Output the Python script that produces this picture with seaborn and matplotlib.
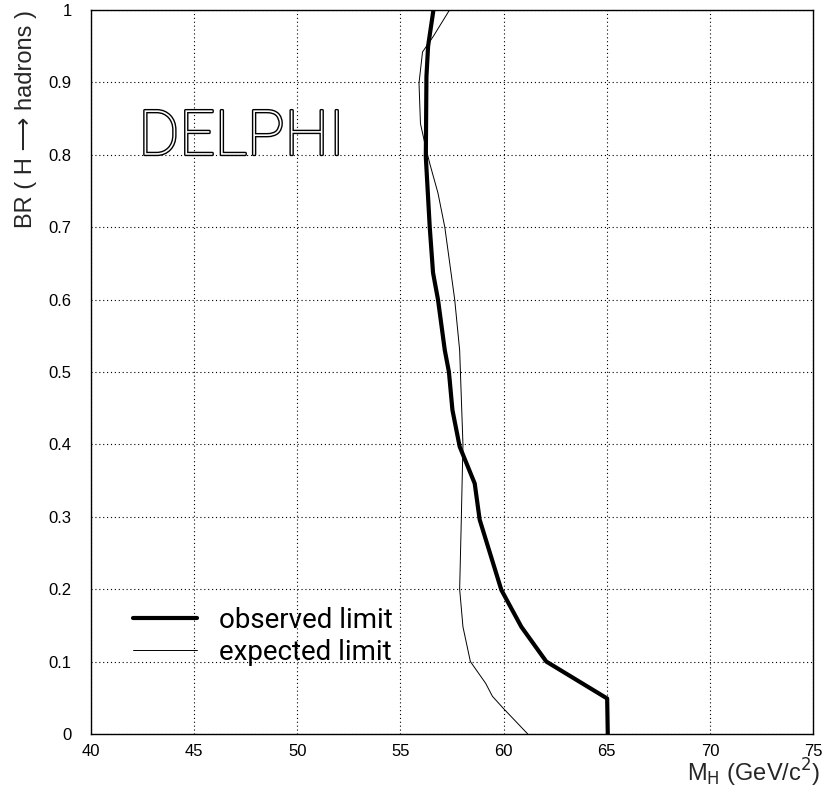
import matplotlib
matplotlib.use('Agg')
import matplotlib.pyplot as plt
import matplotlib.patheffects as pe
from matplotlib.ticker import MultipleLocator
import pandas as pd
import seaborn as sns

# observed limit (thick line)
obs_mh = [56.6, 56.34, 56.26, 56.23, 56.42, 56.58, 56.82, 57.15, 57.35, 57.52,
          57.87, 58.6, 58.84, 59.89, 60.86, 62.07, 65.02, 65.05]
obs_br = [1.0, 0.95, 0.908, 0.797, 0.7, 0.637, 0.6, 0.53, 0.5, 0.4475,
          0.397, 0.346, 0.296, 0.199, 0.148, 0.1, 0.049, 0.0]

# expected limit (thin line)
exp_mh = [57.38, 56.58, 56.07, 55.9, 55.97, 56.18, 56.42, 56.82, 57.15, 57.63,
          57.87, 58.03, 57.95, 57.87, 58.03, 58.39, 59.13, 59.46, 60.0, 61.17]
exp_br = [1.0, 0.963, 0.942, 0.899, 0.843, 0.816, 0.788, 0.747, 0.7, 0.6,
          0.53, 0.4, 0.296, 0.2, 0.148, 0.1, 0.07, 0.052, 0.035, 0.0]

labels = ['observed limit', 'expected limit']
y_ticklabels = ['0', '0.1', '0.2', '0.3', '0.4', '0.5', '0.6', '0.7', '0.8', '0.9', '1']


def main():
    sns.set_style('white')
    plt.rcParams['font.family'] = ['Liberation Sans', 'DejaVu Sans']

    df_obs = pd.DataFrame({'mh': obs_mh, 'br': obs_br})
    df_exp = pd.DataFrame({'mh': exp_mh, 'br': exp_br})

    fig = plt.figure(figsize=(8.25, 7.91), dpi=100)
    ax = fig.add_axes([0.1103, 0.0721, 0.8752, 0.9153])

    sns.lineplot(data=df_obs, x='mh', y='br', sort=False, estimator=None,
                 color='black', linewidth=3.0, label=labels[0], ax=ax)
    sns.lineplot(data=df_exp, x='mh', y='br', sort=False, estimator=None,
                 color='black', linewidth=0.7, label=labels[1], ax=ax)

    ax.set_xlim(40, 75)
    ax.set_ylim(0, 1)
    ax.xaxis.set_major_locator(MultipleLocator(5))
    ax.xaxis.set_minor_locator(MultipleLocator(1))
    ax.yaxis.set_minor_locator(MultipleLocator(0.02))
    ax.set_yticks([i / 10 for i in range(11)])
    ax.set_yticklabels(y_ticklabels)
    ax.tick_params(axis='both', which='major', direction='in', length=9, width=0.8,
                   labelsize=12, colors='black')
    ax.tick_params(axis='both', which='minor', direction='in', length=5, width=0.8)
    ax.tick_params(axis='y', which='major', pad=14)
    ax.tick_params(axis='x', which='major', pad=7)
    ax.grid(True, which='major', linestyle=(0, (1, 2.5)), color='black', linewidth=0.8)

    for s in ax.spines.values():
        s.set_color('black')
        s.set_linewidth(1.0)

    ax.set_ylabel('BR ( H \u27f6 hadrons )', fontsize=17, loc='top', labelpad=8)
    ax.set_xlabel(r'M$_{\mathrm{H}}$ (GeV/c$^{2}$)', fontsize=17, loc='right')
    ax.xaxis.set_label_coords(1.01, -0.032)

    ax.text(42.3, 0.8, 'DELPHI', fontsize=45, color='white',
            family=['Roboto', 'DejaVu Sans'], fontweight='light',
            ha='left', va='baseline',
            path_effects=[pe.withStroke(linewidth=2.0, foreground='black')])

    leg = ax.legend(loc='upper left', bbox_to_anchor=(0.058, 0.176), frameon=False,
                    handlelength=2.3, handletextpad=0.8, labelspacing=0.2,
                    borderpad=0, borderaxespad=0,
                    prop={'family': ['Roboto', 'DejaVu Sans'], 'size': 20, 'weight': 'normal'})
    for t in leg.get_texts():
        t.set_color('black')

    fig.savefig('out.png', dpi=100)
    plt.close(fig)


if __name__ == '__main__':
    main()
